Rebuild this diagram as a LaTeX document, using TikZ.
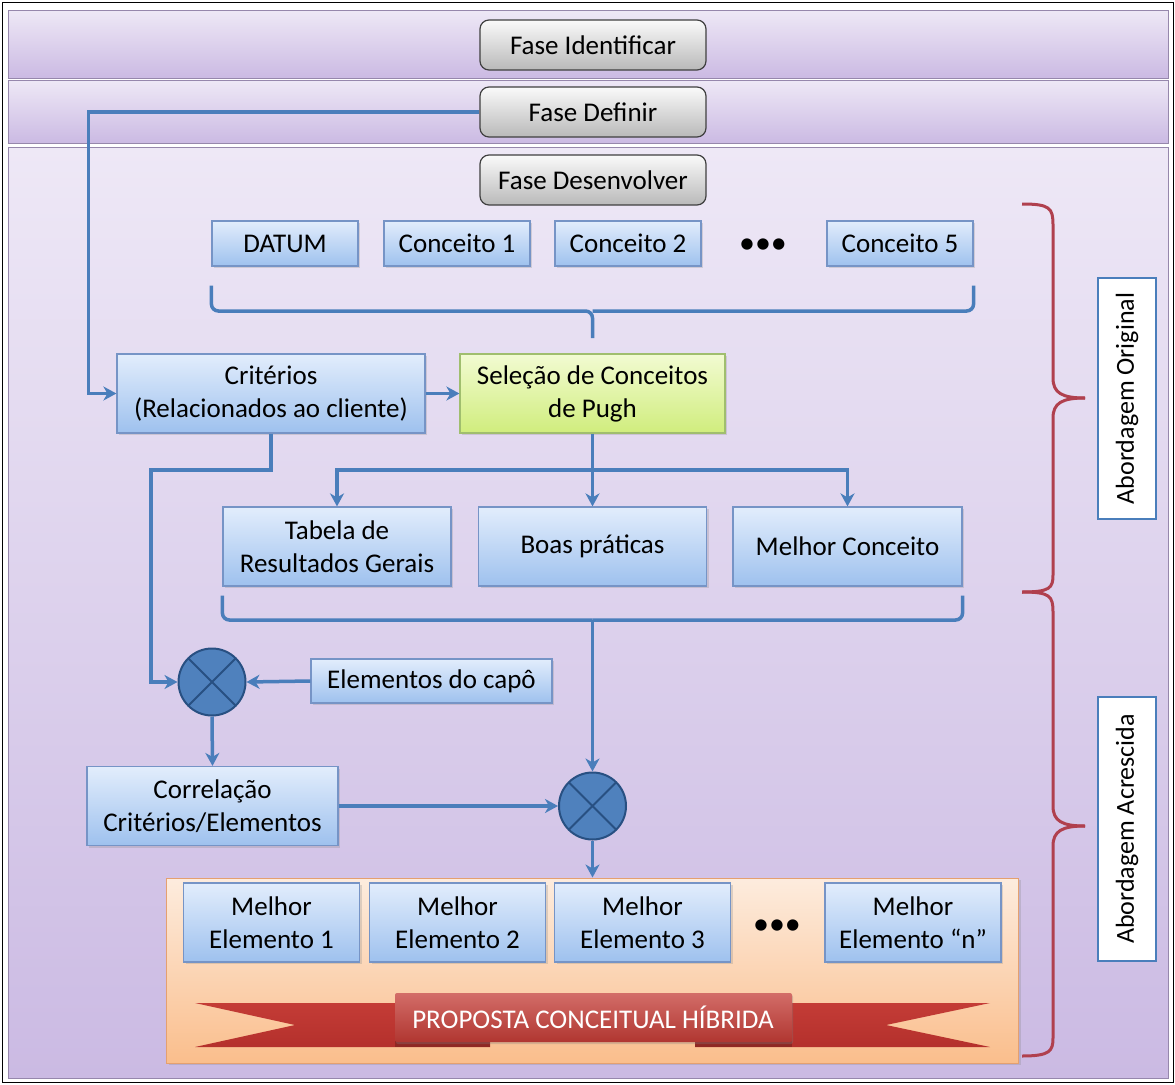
\documentclass[tikz,border=0pt]{standalone}
\usepackage{fontspec}
\setmainfont{Carlito}
\usetikzlibrary{arrows.meta, positioning, shadows, calc}

\definecolor{bandtop}{RGB}{238,232,246}
\definecolor{bandbot}{RGB}{203,186,227}
\definecolor{bandedge}{RGB}{150,135,172}
\definecolor{fasetop}{RGB}{250,250,250}
\definecolor{fasebot}{RGB}{185,185,185}
\definecolor{boxtop}{RGB}{226,237,252}
\definecolor{boxbot}{RGB}{158,193,238}
\definecolor{boxedge}{RGB}{118,148,198}
\definecolor{pughtop}{RGB}{242,251,210}
\definecolor{pughbot}{RGB}{208,237,125}
\definecolor{pughedge}{RGB}{160,190,110}
\definecolor{linkblue}{RGB}{74,126,187}
\definecolor{mixfill}{RGB}{79,129,189}
\definecolor{mixedge}{RGB}{40,80,130}
\definecolor{orangetop}{RGB}{253,236,222}
\definecolor{orangebot}{RGB}{250,190,140}
\definecolor{orangeedge}{RGB}{228,160,112}
\definecolor{ribbonred}{RGB}{196,60,54}
\definecolor{ribbondark}{RGB}{180,48,44}
\definecolor{bracecol}{RGB}{176,64,78}

\tikzset{
  boxfont/.style={font=\fontsize{27}{33}\selectfont},
  band/.style={draw=bandedge, line width=1pt, top color=bandtop, bottom color=bandbot},
  fasebox/.style={boxfont, draw=black!75, line width=1.2pt, rounded corners=9pt,
    top color=fasetop, bottom color=fasebot, minimum width=226pt, minimum height=50pt, inner sep=2pt},
  bluebox/.style={boxfont, draw=boxedge, line width=1.2pt, top color=boxtop, bottom color=boxbot,
    align=center, inner sep=2pt, drop shadow={opacity=0.25, shadow xshift=2pt, shadow yshift=-2pt}},
  pughbox/.style={bluebox, draw=pughedge, top color=pughtop, bottom color=pughbot},
  mixer/.style={circle, draw=mixedge, line width=2pt, fill=mixfill, minimum size=67pt,
    path picture={\draw[mixedge, line width=2pt]
      (path picture bounding box.north west) -- (path picture bounding box.south east)
      (path picture bounding box.north east) -- (path picture bounding box.south west);}},
  link/.style={draw=linkblue, line width=3.5pt},
  flow/.style={link, -{Stealth[length=13pt, width=14pt, inset=4pt]}},
  bracestyle/.style={draw=bracecol, line width=3pt},
  sidelabel/.style={draw=linkblue, line width=2.5pt, fill=white, rotate=90,
    minimum height=58pt, inner sep=2pt, font=\fontsize{26}{30}\selectfont},
  dotsnode/.style={font=\fontsize{32}{32}\selectfont, inner sep=0pt}
}

\begin{document}
\begin{tikzpicture}[x=1pt, y=-1pt]
  \useasboundingbox (0,0) rectangle (1175,1084);
  \draw[line width=1pt] (2,2) rectangle (1173,1082);

  % faixas das fases
  \path[band] (8,10) rectangle (1168,78);
  \path[band] (8,80) rectangle (1168,143);
  \path[band] (8,147) rectangle (1168,1078);

  \node[fasebox] (fid) at (593,45) {Fase Identificar};
  \node[fasebox] (fdef) at (593,112) {Fase Definir};
  \node[fasebox] (fdes) at (593,180) {Fase Desenvolver};

  % conceitos
  \node[bluebox, minimum width=146pt, minimum height=45pt] (datum) at (285,243.5) {DATUM};
  \node[bluebox, minimum width=146pt, minimum height=45pt] (c1) at (457,243.5) {Conceito 1};
  \node[bluebox, minimum width=146pt, minimum height=45pt] (c2) at (628,243.5) {Conceito 2};
  \node[dotsnode] (dots1) at (763,246) {•••};
  \node[bluebox, minimum width=146pt, minimum height=45pt] (c5) at (900,243.5) {Conceito 5};

  \node[bluebox, minimum width=308pt, minimum height=79pt] (crit) at (271,393.5) {Critérios\\(Relacionados ao cliente)};
  \node[pughbox, minimum width=265pt, minimum height=79pt] (pugh) at (592.5,393.5) {Seleção de Conceitos\\de Pugh};

  \node[bluebox, minimum width=228pt, minimum height=79pt] (tabela) at (337,546.5) {Tabela de\\Resultados Gerais};
  \node[bluebox, minimum width=228pt, minimum height=79pt] (boas) at (592.5,546.5) {Boas práticas};
  \node[bluebox, minimum width=229pt, minimum height=79pt] (melhor) at (847.5,546.5) {Melhor Conceito};

  \node[mixer] (circ1) at (212,682) {};
  \node[bluebox, minimum width=241pt, minimum height=44pt] (capo) at (431.5,681) {Elementos do capô};
  \node[bluebox, minimum width=251pt, minimum height=79pt] (corr) at (212.5,806) {Correlação\\Critérios/Elementos};
  \node[mixer] (circ2) at (592.5,806) {};

  % proposta hibrida
  \node[draw=orangeedge, line width=1pt, top color=orangetop, bottom color=orangebot,
    minimum width=852pt, minimum height=185pt, drop shadow={opacity=0.25, shadow xshift=2pt, shadow yshift=-2pt}]
    (hibrida) at (592.5,970.5) {};
  \node[bluebox, minimum width=176pt, minimum height=79pt] (me1) at (271.5,922.5) {Melhor\\Elemento 1};
  \node[bluebox, minimum width=176pt, minimum height=79pt] (me2) at (457.5,922.5) {Melhor\\Elemento 2};
  \node[bluebox, minimum width=176pt, minimum height=79pt] (me3) at (642.5,922.5) {Melhor\\Elemento 3};
  \node[dotsnode] (dots2) at (777,927) {•••};
  \node[bluebox, minimum width=176pt, minimum height=79pt] (men) at (913,922.5) {Melhor\\Elemento “n”};

  \shade[top color=ribbonred, bottom color=ribbondark]
    (490,1003) -- (195,1003) -- (295,1025) -- (195,1047) -- (490,1047) -- cycle;
  \shade[top color=ribbonred, bottom color=ribbondark]
    (695,1003) -- (990,1003) -- (886,1025) -- (990,1047) -- (695,1047) -- cycle;
  \fill[ribbondark!80!black] (395,1041) rectangle (490,1047);
  \fill[ribbondark!80!black] (695,1041) rectangle (792,1047);
  \shade[top color=ribbonred!75!white, bottom color=ribbonred!90!black, rounded corners=2pt,
    drop shadow={opacity=0.3, shadow xshift=1pt, shadow yshift=-2pt}]
    (395,993) rectangle (792,1042);
  \node[boxfont, text=white] (faixa) at (593,1017) {PROPOSTA CONCEITUAL HÍBRIDA};

  % ligacoes
  \draw[flow] (fdef.west) -| ([xshift=-28pt]crit.west) -- (crit.west);
  \draw[flow] (crit) -- (pugh);
  \coordinate (critbend) at (151,470);
  \draw[flow] (crit.south) |- (critbend) |- (circ1.west);
  \coordinate (split) at (592.5,470);
  \draw[flow] (pugh.south) -- (boas.north);
  \draw[flow] (split) -| (tabela.north);
  \draw[flow] (split) -| (melhor.north);

  \coordinate (pick) at (592.5,311);
  \draw[link, rounded corners=7pt] ([yshift=-19pt]datum.south west) |- (pick) -- ++(0,27);
  \draw[link, rounded corners=7pt] ([yshift=-19pt]c5.south east) |- (pick);

  \coordinate (pick2) at (592.5,620);
  \draw[link, rounded corners=7pt] ([yshift=-9pt]tabela.south west) |- (pick2);
  \draw[link, rounded corners=7pt] ([yshift=-9pt]melhor.south east) |- (pick2);
  \draw[flow] (pick2) -- (circ2.north);

  \draw[flow] (capo.west) -- (circ1.east);
  \draw[flow] (circ1.south) -- (corr.north);
  \draw[flow] (corr.east) -- (circ2.west);
  \draw[flow] (circ2.south) -- (hibrida.north);

  % chaves
  \draw[bracestyle] (1022,204) .. controls (1050,204) and (1053,208) .. (1053,225) -- (1053,378)
    .. controls (1053,393) and (1062,398) .. (1085,398);
  \draw[bracestyle] (1085,398) .. controls (1062,398) and (1053,403) .. (1053,418) -- (1053,575)
    .. controls (1053,588) and (1050,592) .. (1022,592);
  \draw[bracestyle] (1022,592) .. controls (1050,592) and (1053,596) .. (1053,612) -- (1053,806)
    .. controls (1053,821) and (1062,826) .. (1085,826);
  \draw[bracestyle] (1085,826) .. controls (1062,826) and (1053,831) .. (1053,846) -- (1053,1038)
    .. controls (1053,1051) and (1050,1056) .. (1022,1056);

  \node[sidelabel, minimum width=241pt] (orig) at (1127,398.5) {Abordagem Original};
  \node[sidelabel, minimum width=264pt] (acresc) at (1127,829) {Abordagem Acrescida};
\end{tikzpicture}
\end{document}
